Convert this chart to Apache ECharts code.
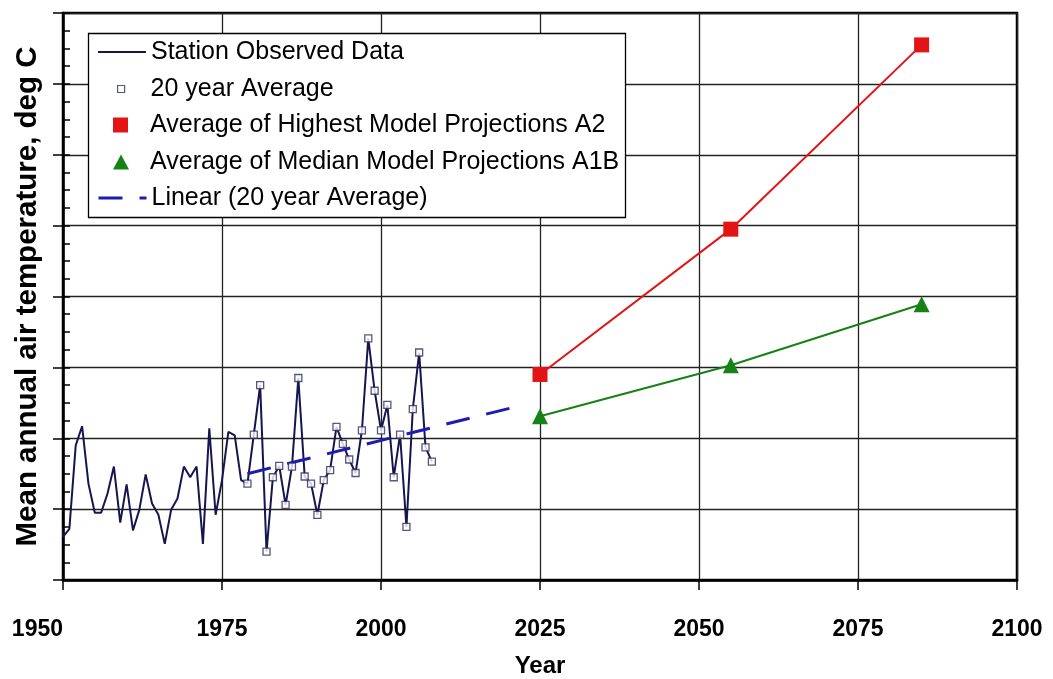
<!DOCTYPE html>
<html>
<head>
<meta charset="utf-8">
<script src="https://cdn.jsdelivr.net/npm/echarts@6/dist/echarts.min.js"></script>
<style>
html,body{margin:0;padding:0;background:#fff;}
#chart{width:1053px;height:679px;}
</style>
</head>
<body>
<div id="chart"></div>
<script>
// ---- data (y in gridline units, axis unlabeled) ----
const obsYears = [1949,1950,1951,1952,1953,1954,1955,1956,1957,1958,1959,1960,1961,1962,1963,1964,1965,1966,1967,1968,1969,1970,1971,1972,1973,1974,1975,1976,1977,1978,1979,1980,1981,1982,1983,1984,1985,1986,1987,1988,1989,1990,1991,1992,1993,1994,1995,1996,1997,1998,1999,2000,2001,2002,2003,2004,2005,2006,2007,2008];
const obsTemps = [1.17,0.61,0.72,1.90,2.17,1.36,0.95,0.95,1.22,1.60,0.81,1.35,0.70,0.99,1.49,1.08,0.92,0.51,0.99,1.15,1.60,1.45,1.60,0.51,2.14,0.92,1.41,2.09,2.04,1.41,1.36,2.05,2.75,0.40,1.45,1.61,1.06,1.60,2.85,1.46,1.36,0.92,1.41,1.55,2.16,1.92,1.70,1.51,2.11,3.41,2.67,2.11,2.47,1.45,2.05,0.75,2.41,3.21,1.87,1.67];
const avgFirstYear = 1979;
const projYears = [2025, 2055, 2085];
const highA2 = [2.90, 4.95, 7.55];
const medA1B = [2.31, 3.03, 3.89];
const trendYears = [1979, 2021];
const trendTemps = [1.50, 2.44];
const xMin = 1950, xMax = 2100, xStep = 25;
const yMin = 0, yMax = 8, yStep = 1;

const names = ['Station Observed Data','20 year Average','Average of Highest Model Projections A2','Average of Median Model Projections A1B','Linear (20 year Average)'];

const pair = (xs, ys) => xs.map((x, i) => [x, ys[i]]);
const obsData = pair(obsYears, obsTemps);
const avgData = obsData.filter(d => d[0] >= avgFirstYear);

const FONT = '"Liberation Sans", Arial, sans-serif';
const C_OBS = '#15154f', C_SQ = '#2c2c5e', C_RED = '#e31414', C_GRN = '#148214', C_TREND = '#1c1cb0';

const legTxt = (pad) => ({fontSize: 25, lineHeight: 25, fontFamily: FONT, color: '#000', padding: [0, 0, 0, pad]});
const rowY = [52, 89, 125, 162, 198];
const noSym = {color: 'rgba(0,0,0,0)', borderWidth: 0, opacity: 0};

const chart = echarts.init(document.getElementById('chart'), null, {renderer: 'canvas'});
chart.setOption({
  animation: false,
  backgroundColor: '#fff',
  grid: {left: 63, right: 36, top: 13, bottom: 99, show: true, borderColor: '#000', borderWidth: 2.5, backgroundColor: 'transparent',
    containLabel: false, outerBoundsMode: 'none'},
  xAxis: {
    type: 'value', min: xMin, max: xMax, interval: xStep,
    axisLine: {show: true, onZero: false, lineStyle: {color: '#000', width: 2.5}},
    axisTick: {show: true, length: 10, lineStyle: {color: '#000', width: 1.5}},
    axisLabel: {fontFamily: FONT, fontSize: 23, fontWeight: 'bold', color: '#000', margin: 38, showMinLabel: true, showMaxLabel: true,
      alignMinLabel: 'right', formatter: v => String(v)},
    splitLine: {show: true, lineStyle: {color: '#222', width: 1.3}},
    name: 'Year', nameLocation: 'middle', nameGap: 74,
    nameTextStyle: {fontFamily: FONT, fontSize: 24, fontWeight: 'bold', color: '#000'}
  },
  yAxis: [{
    type: 'value', min: yMin, max: yMax, interval: yStep,
    axisLine: {show: true, onZero: false, lineStyle: {color: '#000', width: 2.5}},
    axisTick: {show: true, length: 10, lineStyle: {color: '#000', width: 1.5}},
    axisLabel: {show: false},
    splitLine: {show: true, lineStyle: {color: '#222', width: 1.3}},
    name: 'Mean annual air temperature, deg C', nameLocation: 'middle', nameGap: 20,
    nameTextStyle: {fontFamily: FONT, fontSize: 29.5, fontWeight: 'bold', color: '#000'}
  }, {
    type: 'value', min: yMin, max: yMax, interval: yStep / 4, position: 'left',
    axisLine: {show: false},
    axisTick: {show: true, inside: true, length: 7, lineStyle: {color: '#000', width: 1.5}},
    axisLabel: {show: false}, splitLine: {show: false}
  }],
  graphic: [{
    type: 'rect', z: 3, shape: {x: 88.5, y: 33.5, width: 537, height: 184},
    style: {fill: '#fff', stroke: '#000', lineWidth: 1.3}
  }],
  legend: [
    {data: [names[0]], left: 97, top: rowY[0] - 12.5, padding: 0, z: 5, selectedMode: false, itemWidth: 48, itemHeight: 14,
     lineStyle: {color: C_OBS, width: 2}, itemStyle: noSym, textStyle: legTxt(0)},
    {data: [names[1]], left: 117, top: rowY[1] - 12.5, padding: 0, z: 5, selectedMode: false, itemWidth: 7, itemHeight: 7, icon: 'rect',
     itemStyle: {color: '#fff', borderColor: C_SQ, borderWidth: 1.2}, textStyle: legTxt(21)},
    {data: [names[2]], left: 113, top: rowY[2] - 12.5, padding: 0, z: 5, selectedMode: false, itemWidth: 15, itemHeight: 15, icon: 'rect',
     itemStyle: {color: C_RED, borderWidth: 0}, textStyle: legTxt(17)},
    {data: [names[3]], left: 113, top: rowY[3] - 12.5, padding: 0, z: 5, selectedMode: false, itemWidth: 16, itemHeight: 15, icon: 'triangle',
     itemStyle: {color: C_GRN, borderWidth: 0}, textStyle: legTxt(16)},
    {data: [names[4]], left: 97, top: rowY[4] - 12.5, padding: 0, z: 5, selectedMode: false, itemWidth: 48, itemHeight: 14,
     lineStyle: {color: C_TREND, width: 3, type: [24, 17]}, itemStyle: noSym, textStyle: legTxt(0)}
  ],
  series: [
    {name: names[0], type: 'line', data: obsData, symbol: 'none', clip: false, z: 2,
     lineStyle: {color: C_OBS, width: 2}, itemStyle: {color: C_OBS}},
    {name: names[1], type: 'scatter', data: avgData, symbol: 'rect', symbolSize: 7, z: 3,
     itemStyle: {color: '#fff', borderColor: C_SQ, borderWidth: 1.3}},
    {name: names[2], type: 'line', data: pair(projYears, highA2), symbol: 'rect', symbolSize: 15, showSymbol: true, z: 2,
     lineStyle: {color: C_RED, width: 2}, itemStyle: {color: C_RED}},
    {name: names[3], type: 'line', data: pair(projYears, medA1B), symbol: 'triangle', symbolSize: 16, showSymbol: true, z: 2,
     lineStyle: {color: C_GRN, width: 2}, itemStyle: {color: C_GRN}},
    {name: names[4], type: 'line', data: pair(trendYears, trendTemps), symbol: 'none', z: 2,
     lineStyle: {color: C_TREND, width: 3, type: [24, 17]}, itemStyle: {color: C_TREND}}
  ]
});
</script>
</body>
</html>
